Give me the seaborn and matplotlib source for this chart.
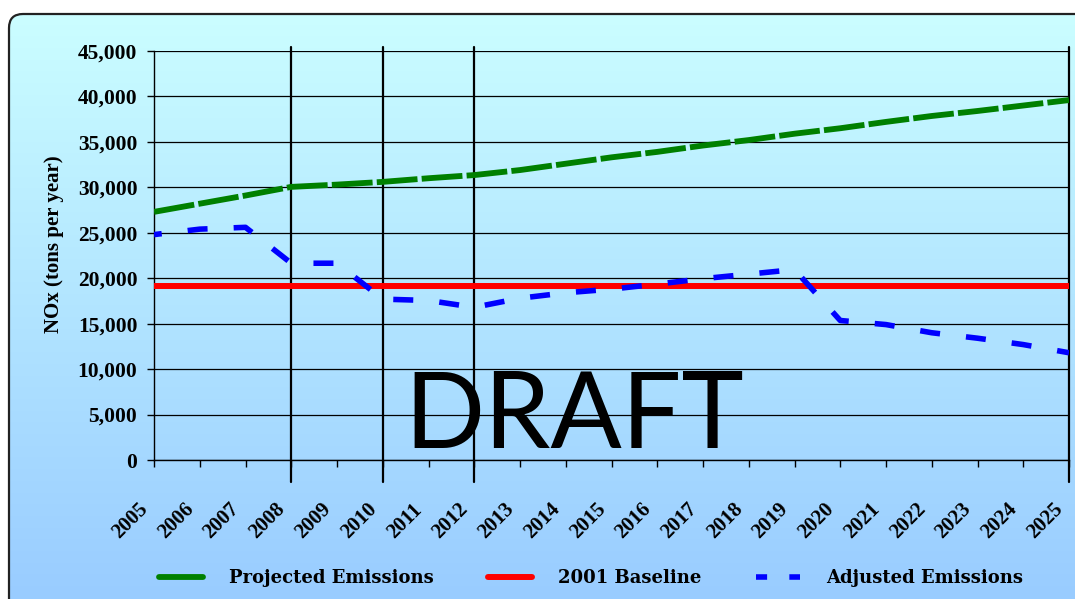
import matplotlib
matplotlib.use("Agg")
import numpy as np
import pandas as pd
import seaborn as sns
import matplotlib.pyplot as plt
from matplotlib.patches import FancyBboxPatch
from matplotlib.transforms import IdentityTransform, ScaledTranslation
from matplotlib.lines import Line2D
from matplotlib.colors import LinearSegmentedColormap

# ---- data -------------------------------------------------------------
years = [2005, 2006, 2007, 2008, 2009, 2010, 2011, 2012, 2013, 2014, 2015,
         2016, 2017, 2018, 2019, 2020, 2021, 2022, 2023, 2024, 2025]
projected = [27300, 28200, 29100, 30050, 30300, 30600, 31000, 31350, 31900,
             32600, 33300, 33900, 34600, 35200, 35900, 36500, 37200, 37850,
             38400, 39000, 39600]
adjusted = [24800, 25400, 25600, 21650, 21650, 17700, 17550, 16800, 17800,
            18400, 18800, 19350, 19950, 20450, 20950, 15350, 14900, 14000,
            13400, 12700, 11800]
baseline_2001 = 19100
baseline = [baseline_2001] * len(years)
marker_years = [2008, 2010, 2012, 2025]
y_ticks = list(range(0, 45001, 5000))
series_labels = ["Projected Emissions", "2001 Baseline", "Adjusted Emissions"]

df = pd.DataFrame({"Year": years,
                   series_labels[0]: projected,
                   series_labels[1]: baseline,
                   series_labels[2]: adjusted})

# ---- style ------------------------------------------------------------
sns.set_theme(style="white")
plt.rcParams["font.family"] = ["Liberation Serif", "DejaVu Serif"]
plt.rcParams.update({"text.color": "black", "axes.labelcolor": "black",
                     "xtick.color": "black", "ytick.color": "black",
                     "font.weight": "bold"})

W, H = 1075, 599
fig = plt.figure(figsize=(W / 100, H / 100), dpi=100, facecolor="white")

# rounded chart panel with a vertical gradient fill
panel = FancyBboxPatch((9, -25), 1095 - 9, (H - 14) + 25,
                       boxstyle="round,pad=0,rounding_size=14",
                       transform=IdentityTransform(), facecolor="none",
                       edgecolor="#222222", lw=1.6, zorder=0.5)
bg = fig.add_axes([0, 0, 1, 1], zorder=0)
bg.axis("off")
grad = np.linspace(0, 1, 256).reshape(-1, 1)
cmap = LinearSegmentedColormap.from_list("panel", ["#99CCFF", "#CCFFFF"])
im = bg.imshow(grad, cmap=cmap, aspect="auto", extent=[0, 1, 0, 1],
               origin="lower")
im.set_clip_path(panel)
fig.add_artist(panel)

# ---- plot area --------------------------------------------------------
x0, x1, yt, yb = 154, 1069, 51, 460
ax = fig.add_axes([x0 / W, 1 - yb / H, (x1 - x0) / W, (yb - yt) / H], zorder=1)
ax.set_facecolor("none")

sns.lineplot(data=df, x="Year", y=series_labels[0], ax=ax, color="#008000",
             lw=4.2, legend=False, zorder=3)
sns.lineplot(data=df, x="Year", y=series_labels[1], ax=ax, color="#FF0000",
             lw=4.3, legend=False, zorder=3)
sns.lineplot(data=df, x="Year", y=series_labels[2], ax=ax, color="#0000FF",
             lw=4, legend=False, zorder=4)
l_proj, l_base, l_adj = ax.get_lines()[:3]
l_proj.set_linestyle((0, (7.0, 0.72)))
l_proj.set_dash_capstyle("butt")
l_adj.set_linestyle((2.2, (3.6, 4.7)))
l_adj.set_dash_capstyle("butt")

for yr in marker_years:
    ax.axvline(yr, ymin=-0.054, ymax=1.01, color="black", lw=1.6,
               clip_on=False, zorder=2)

ax.set_xlim(years[0], years[-1])
ax.set_ylim(y_ticks[0], y_ticks[-1])
ax.set_xticks(years)
ax.set_xticklabels([str(y) for y in years], rotation=45, ha="right",
                   va="center", rotation_mode="anchor")
ax.set_yticks(y_ticks)
ax.set_yticklabels([f"{v:,}" for v in y_ticks])
ax.tick_params(axis="x", bottom=True, length=5, width=1, pad=22,
               labelsize=15, direction="out")
ax.tick_params(axis="y", left=True, length=5, width=1, pad=7,
               labelsize=15.5, direction="out")
for lbl in ax.get_xticklabels() + ax.get_yticklabels():
    lbl.set_fontweight("bold")
# nudge the slanted year labels down and to the left of their ticks
shift = ScaledTranslation(-0.09, -0.09, fig.dpi_scale_trans)
for lbl in ax.get_xticklabels():
    lbl.set_transform(lbl.get_transform() + shift)

ax.set_axisbelow(True)
ax.yaxis.grid(True, color="black", lw=0.9)
ax.xaxis.grid(False)
for side in ("top", "right"):
    ax.spines[side].set_visible(False)
for side in ("left", "bottom"):
    ax.spines[side].set_color("black")
    ax.spines[side].set_linewidth(1)

ax.set_xlabel("")
ax.set_ylabel("NOx (tons per year)", fontsize=15, fontweight="bold")
ax.yaxis.set_label_coords((54.5 - x0) / (x1 - x0), (yb - 244.5) / (yb - yt))
ax.yaxis.label.set_va("center")

fig.text(574 / W, 1 - 448 / H, "DRAFT", fontfamily="Lato", fontsize=76,
         fontweight="normal", ha="center", va="baseline", color="black",
         zorder=1.5)

handles = [Line2D([], [], color="#008000", lw=4.2),
           Line2D([], [], color="#FF0000", lw=4.3),
           Line2D([], [], color="#0000FF", lw=4, linestyle=(0, (2.0, 4.0)))]
fig.legend(handles, series_labels, loc="center left",
           bbox_to_anchor=(159 / W, 1 - 578 / H), ncol=3, frameon=False,
           borderpad=0, borderaxespad=0,
           prop={"family": ["DejaVu Serif"], "weight": "bold", "size": 13},
           handlelength=2.44, handletextpad=1.44, columnspacing=3.0)

fig.savefig("out.png", dpi=100, facecolor="white")
